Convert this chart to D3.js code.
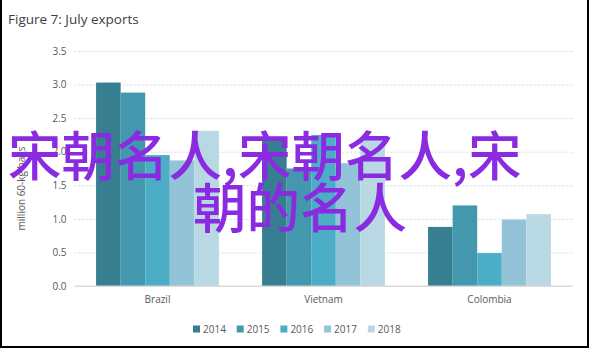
<!DOCTYPE html>
<html>
<head>
<meta charset="utf-8">
<script src="https://cdn.jsdelivr.net/npm/d3@7"></script>
<style>
  body { margin: 0; background: #fff; }
  svg { display: block; font-family: "Open Sans", "Liberation Sans", sans-serif; }
</style>
</head>
<body>
<div id="chart"></div>
<script>
const countries = ["Brazil", "Vietnam", "Colombia"];
const years = ["2014", "2015", "2016", "2017", "2018"];
const brazil = [3.03, 2.88, 1.95, 1.87, 2.31];
const vietnam = [2.22, 1.75, 2.25, 1.83, 2.19];
const colombia = [0.88, 1.20, 0.49, 0.99, 1.07];
const yTicks = [0, 0.5, 1.0, 1.5, 2.0, 2.5, 3.0, 3.5];
const colors = ["#377f90", "#4398ae", "#4badc6", "#93c3d6", "#b8d8e3"];
const overlay = ["宋朝名人,宋朝名人,宋", "朝的名人"];

const width = 590, height = 351;
const plot = { left: 74.5, right: 572.5, top: 51, bottom: 286 };

const series = [brazil, vietnam, colombia];
const rows = countries.map((c, i) => ({ country: c, values: series[i] }));

const svg = d3.select("#chart").append("svg")
  .attr("width", width)
  .attr("height", height);

// frame
svg.append("rect")
  .attr("x", 1).attr("y", -2)
  .attr("width", width - 3).attr("height", height - 2)
  .attr("fill", "none")
  .attr("stroke", "#000")
  .attr("stroke-width", 2);

svg.append("text")
  .attr("x", 8).attr("y", 24)
  .attr("font-size", 13.5)
  .attr("fill", "#404040")
  .text("Figure 7: July exports");

const x = d3.scaleBand()
  .domain(countries)
  .range([plot.left, plot.right])
  .paddingInner(0.26)
  .paddingOuter(0.13);

const xYear = d3.scaleBand()
  .domain(years)
  .range([0, x.bandwidth()]);

const y = d3.scaleLinear()
  .domain([0, 3.5])
  .range([plot.bottom, plot.top]);

// gridlines
const yAxis = d3.axisLeft(y)
  .tickValues(yTicks)
  .tickFormat(d3.format(".1f"))
  .tickSize(-(plot.right - plot.left))
  .tickPadding(8);

const gy = svg.append("g")
  .attr("transform", `translate(${plot.left},0)`)
  .call(yAxis);
gy.select(".domain").remove();
gy.selectAll(".tick line")
  .attr("stroke", "#d9d9d9")
  .attr("stroke-dasharray", d => d === 0 ? null : "2,2")
  .attr("stroke-width", 1);
gy.selectAll(".tick text")
  .attr("fill", "#595959")
  .attr("font-size", 10)
  .attr("font-family", "Open Sans, sans-serif");

svg.append("text")
  .attr("transform", `translate(25,${(plot.top + plot.bottom) / 2 + 20}) rotate(-90)`)
  .attr("text-anchor", "middle")
  .attr("font-size", 10)
  .attr("fill", "#595959")
  .text("million 60-kg bags");

// bars
const groups = svg.append("g").selectAll("g")
  .data(rows)
  .join("g")
  .attr("transform", d => `translate(${x(d.country)},0)`);

groups.selectAll("rect")
  .data(d => d.values.map((v, i) => ({ year: years[i], value: v, i })))
  .join("rect")
  .attr("x", d => xYear(d.year))
  .attr("y", d => y(d.value))
  .attr("width", xYear.bandwidth())
  .attr("height", d => y(0) - y(d.value))
  .attr("fill", d => colors[d.i]);

// baseline
svg.append("line")
  .attr("x1", plot.left).attr("x2", plot.right)
  .attr("y1", y(0)).attr("y2", y(0))
  .attr("stroke", "#d9d9d9");

// x axis labels
const xAxis = d3.axisBottom(x).tickSize(0).tickPadding(10);
const gx = svg.append("g")
  .attr("transform", `translate(0,${plot.bottom})`)
  .call(xAxis);
gx.select(".domain").remove();
gx.selectAll(".tick text")
  .attr("fill", "#595959")
  .attr("font-size", 10)
  .attr("font-family", "Open Sans, sans-serif");

// legend
const legend = svg.append("g").attr("transform", "translate(193,329)");
const item = legend.selectAll("g")
  .data(years)
  .join("g")
  .attr("transform", (d, i) => `translate(${i * 43.7},0)`);
item.append("rect")
  .attr("x", 0).attr("y", -3.5)
  .attr("width", 7).attr("height", 7)
  .attr("fill", (d, i) => colors[i]);
item.append("text")
  .attr("x", 10).attr("y", 3.8)
  .attr("font-size", 10)
  .attr("fill", "#595959")
  .text(d => d);

// overlay text
const ov = svg.append("g")
  .attr("font-family", "Noto Sans CJK SC, sans-serif")
  .attr("font-size", 53.5)
  .attr("font-weight", 500)
  .attr("fill", "#8a2be2");
ov.append("text").attr("x", 8).attr("y", 176).text(overlay[0]);
ov.append("text").attr("x", 193).attr("y", 228).text(overlay[1]);
</script>
</body>
</html>
